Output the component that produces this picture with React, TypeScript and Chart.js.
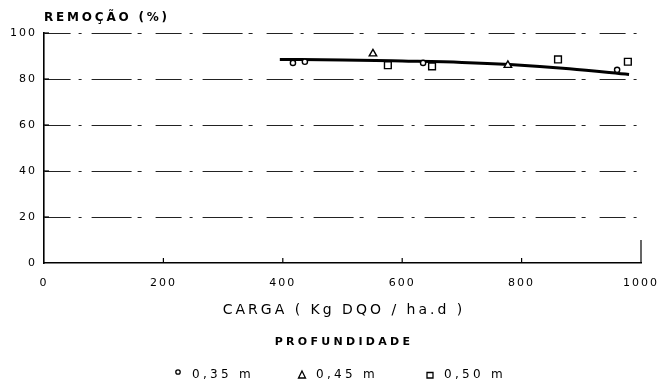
import React, { useEffect, useRef } from 'react';
import { Chart, registerables } from 'chart.js';

Chart.register(...registerables);

// Depth 0,35 m (circles)
const d035X = [417, 437, 635, 960];
const d035Y = [87, 87.5, 87, 84];
// Depth 0,45 m (triangles)
const d045X = [551, 777];
const d045Y = [91, 86];
// Depth 0,50 m (squares)
const d050X = [576, 650, 861, 978];
const d050Y = [86, 85.5, 88.5, 87.5];
// Fitted curve
const fitX = [395, 500, 600, 700, 780, 880, 980];
const fitY = [88.5, 88.3, 87.8, 87.2, 86.3, 84.5, 82];

const xTicks = [0, 200, 400, 600, 800, 1000];
const yTicks = [0, 20, 40, 60, 80, 100];
const legendLabels = ['0,35 m', '0,45 m', '0,50 m'];
const yTitle = 'REMOÇÃO (%)';
const xTitle = 'CARGA ( Kg DQO / ha.d )';
const legendTitle = 'PROFUNDIDADE';

const FONT = '"DejaVu Sans", sans-serif';

const toPts = (xs: number[], ys: number[]) => xs.map((x, i) => ({ x, y: ys[i] }));

const decor = {
  id: 'decor',
  beforeDraw(chart: any) {
    chart.ctx.letterSpacing = '2px';
  },
  afterDraw(chart: any) {
    const { ctx, chartArea, scales } = chart;
    const xs = scales.x;
    const ys = scales.y;
    ctx.save();
    ctx.letterSpacing = '0px';
    ctx.strokeStyle = '#000';
    ctx.lineWidth = 1.2;
    const y0 = ys.getPixelForValue(0);
    xTicks.slice(1, -1).forEach((v) => {
      const x = xs.getPixelForValue(v);
      ctx.beginPath();
      ctx.moveTo(x, y0);
      ctx.lineTo(x, y0 - 5);
      ctx.stroke();
    });
    const xr = xs.getPixelForValue(1000);
    ctx.beginPath();
    ctx.moveTo(xr, y0);
    ctx.lineTo(xr, ys.getPixelForValue(10));
    ctx.stroke();
    yTicks.slice(1).forEach((v) => {
      const y = ys.getPixelForValue(v);
      ctx.beginPath();
      ctx.moveTo(chartArea.left, y);
      ctx.lineTo(chartArea.left + 5, y);
      ctx.stroke();
    });

    ctx.fillStyle = '#000';
    ctx.textBaseline = 'middle';
    ctx.textAlign = 'left';
    ctx.font = `bold 12px ${FONT}`;
    ctx.letterSpacing = '2.8px';
    ctx.fillText(yTitle, chartArea.left, 18);

    const cx = (chartArea.left + chartArea.right) / 2;
    ctx.textAlign = 'center';
    ctx.font = `14px ${FONT}`;
    ctx.letterSpacing = '3px';
    ctx.fillText(xTitle, cx + 1.5, 310);

    ctx.font = `bold 11px ${FONT}`;
    ctx.letterSpacing = '3.3px';
    ctx.fillText(legendTitle, cx + 1.5, 342);

    // legend
    const ly = 375;
    const markerX = [178, 302, 430];
    ctx.lineWidth = 1.3;
    ctx.font = `12px ${FONT}`;
    ctx.letterSpacing = '3.3px';
    ctx.textAlign = 'left';
    markerX.forEach((mx, i) => {
      ctx.beginPath();
      if (i === 0) {
        ctx.arc(mx, ly - 3, 2.2, 0, Math.PI * 2);
      } else if (i === 1) {
        ctx.moveTo(mx, ly - 4);
        ctx.lineTo(mx + 3.5, ly + 3);
        ctx.lineTo(mx - 3.5, ly + 3);
        ctx.closePath();
      } else {
        ctx.rect(mx - 3, ly - 2.5, 6, 5.5);
      }
      ctx.stroke();
      ctx.fillText(legendLabels[i], mx + 14, ly);
    });
    ctx.restore();
  },
};

export default function App() {
  const ref = useRef<HTMLCanvasElement | null>(null);
  useEffect(() => {
    document.body.style.margin = '0';
    const canvas = ref.current;
    if (!canvas) return;
    const pointCommon = {
      type: 'scatter' as const,
      showLine: false,
      borderColor: '#000',
      backgroundColor: '#fff',
      borderWidth: 1.4,
    };
    const chart = new Chart(canvas, {
      type: 'scatter',
      data: {
        datasets: [
          { ...pointCommon, label: legendLabels[0], data: toPts(d035X, d035Y), pointStyle: 'circle', pointRadius: 2.6 },
          { ...pointCommon, label: legendLabels[1], data: toPts(d045X, d045Y), pointStyle: 'triangle', pointRadius: 4.3 },
          { ...pointCommon, label: legendLabels[2], data: toPts(d050X, d050Y), pointStyle: 'rect', pointRadius: 4.8 },
          {
            type: 'line' as const,
            label: 'fit',
            data: toPts(fitX, fitY),
            borderColor: '#000',
            borderWidth: 3,
            pointRadius: 0,
            tension: 0.4,
            cubicInterpolationMode: 'monotone',
            fill: false,
          } as any,
        ],
      },
      options: {
        responsive: false,
        animation: false,
        devicePixelRatio: 1,
        layout: { padding: { left: 0, right: 16, top: 33, bottom: 95 } },
        plugins: { legend: { display: false }, title: { display: false }, tooltip: { enabled: false } },
        scales: {
          x: {
            type: 'linear',
            min: 0,
            max: 1000,
            afterFit: (s: any) => { s.height = 30; s.paddingRight = 0; s.paddingLeft = 0; },
            afterBuildTicks: (s: any) => { s.ticks = xTicks.map((v) => ({ value: v })); },
            ticks: { color: '#000', font: { family: FONT, size: 11 }, padding: 14, maxRotation: 0, callback: (v: any) => String(v) },
            grid: { display: false, drawTicks: false },
            border: { display: true, color: '#000', width: 1.6 },
          },
          y: {
            type: 'linear',
            min: 0,
            max: 100,
            afterFit: (s: any) => { s.width = 44; s.paddingTop = 0; s.paddingBottom = 0; },
            afterBuildTicks: (s: any) => { s.ticks = yTicks.map((v) => ({ value: v })); },
            ticks: { color: '#000', font: { family: FONT, size: 11 }, padding: 7, callback: (v: any) => String(v) },
            grid: {
              drawTicks: false,
              color: (c: any) => (c.tick && c.tick.value === 0 ? 'rgba(0,0,0,0)' : '#222'),
              lineWidth: 1,
            },
            border: { display: true, color: '#000', width: 1.6, dash: [26, 8, 3, 10, 40, 6, 4, 14] },
          },
        },
      },
      plugins: [decor],
    } as any);
    return () => chart.destroy();
  }, []);
  return <canvas ref={ref} width={657} height={388} style={{ display: 'block' }} />;
}
